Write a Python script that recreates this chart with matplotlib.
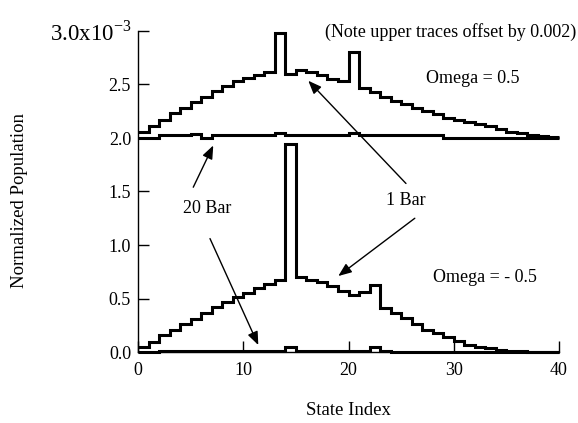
import matplotlib
matplotlib.use("Agg")
import matplotlib.pyplot as plt
import numpy as np

plt.rcParams["font.family"] = ["Liberation Serif", "DejaVu Serif"]
plt.rcParams["mathtext.fontset"] = "custom"
plt.rcParams["mathtext.rm"] = "Liberation Serif"

# populations in units of 1e-3, one value per state (0..39)
states = np.arange(41)
OFFSET = 2.0  # upper traces are shifted up by 0.002

omega_pos_1bar = [0.06, 0.115, 0.17, 0.23, 0.28, 0.34, 0.385, 0.44, 0.49, 0.53,
                  0.56, 0.59, 0.62, 0.98, 0.60, 0.635, 0.62, 0.59, 0.55, 0.53,
                  0.80, 0.47, 0.43, 0.385, 0.35, 0.32, 0.28, 0.25, 0.225, 0.19,
                  0.17, 0.15, 0.13, 0.11, 0.08, 0.06, 0.045, 0.03, 0.02, 0.01]
omega_pos_20bar = [0.0, 0.0, 0.025, 0.025, 0.025, 0.04, 0.0, 0.025, 0.025, 0.025,
                   0.025, 0.025, 0.025, 0.045, 0.025, 0.025, 0.025, 0.025, 0.025, 0.025,
                   0.05, 0.025, 0.025, 0.025, 0.025, 0.025, 0.025, 0.025, 0.025, 0.0,
                   0.0, 0.0, 0.0, 0.0, 0.0, 0.0, 0.0, 0.0, 0.0, 0.0]
omega_neg_1bar = [0.044, 0.096, 0.158, 0.21, 0.26, 0.31, 0.366, 0.417, 0.47, 0.51,
                  0.555, 0.594, 0.634, 0.675, 1.94, 0.70, 0.67, 0.65, 0.615, 0.57,
                  0.53, 0.56, 0.63, 0.41, 0.36, 0.314, 0.26, 0.21, 0.175, 0.14,
                  0.10, 0.07, 0.05, 0.035, 0.02, 0.01, 0.005, 0.003, 0.002, 0.001]
omega_neg_20bar = [0.0, 0.0, 0.005, 0.005, 0.005, 0.005, 0.005, 0.012, 0.012, 0.012,
                   0.012, 0.012, 0.012, 0.012, 0.05, 0.012, 0.012, 0.012, 0.012, 0.012,
                   0.012, 0.012, 0.045, 0.012, 0.0, 0.0, 0.0, 0.0, 0.0, 0.0,
                   0.0, 0.0, 0.0, 0.0, 0.0, 0.0, 0.0, 0.0, 0.0, 0.0]

yticks = [0.0, 0.5, 1.0, 1.5, 2.0, 2.5, 3.0]
yticklabels = ["0.0", "0.5", "1.0", "1.5", "2.0", "2.5", "3.0x10$^{\\mathregular{-3}}$"]
xticks = [0, 10, 20, 30, 40]

W, H = 578, 423
fig = plt.figure(figsize=(W / 100, H / 100), dpi=100)
ax = fig.add_axes([138 / W, (H - 352) / H, 421 / W, 321 / H])

lw = 2.2
ax.stairs(np.array(omega_pos_1bar) + OFFSET, states, baseline=None,
          color="black", lw=lw, clip_on=False)
ax.stairs(np.array(omega_pos_20bar) + OFFSET, states, baseline=None,
          color="black", lw=lw, clip_on=False)
ax.stairs(omega_neg_1bar, states, baseline=None, color="black", lw=lw, clip_on=False)
ax.stairs(omega_neg_20bar, states, baseline=None, color="black", lw=lw, clip_on=False)

ax.set_xlim(0, 40)
ax.set_ylim(0, 3.0)
for side in ("top", "right"):
    ax.spines[side].set_visible(False)
for side in ("left", "bottom"):
    ax.spines[side].set_linewidth(1.0)

ax.set_xticks(xticks)
ax.set_yticks(yticks)
ax.set_yticklabels(yticklabels)
ax.tick_params(direction="in", length=8, width=1, labelsize=13, pad=5)
ax.tick_params(axis="x", pad=7)
# the top label carries the scale factor and is drawn larger
top_label = ax.get_yticklabels()[-1]
top_label.set_fontsize(16.5)
top_label.set_verticalalignment("center_baseline")

ax.set_xlabel("State Index", fontsize=13.5)
ax.xaxis.set_label_coords(0.5, -0.155)
ax.set_ylabel("Normalized Population", fontsize=13.5)
ax.yaxis.set_label_coords(-0.262, 0.473)

fs = 13
ax.text(41.6, 2.99, "(Note upper traces offset by 0.002)", fontsize=fs,
        ha="right", va="center")
ax.text(31.8, 2.56, "Omega = 0.5", fontsize=fs, ha="center", va="center")
ax.text(33.0, 0.70, "Omega = - 0.5", fontsize=fs, ha="center", va="center")
ax.text(6.6, 1.34, "20 Bar", fontsize=fs, ha="center", va="center")
ax.text(25.4, 1.42, "1 Bar", fontsize=fs, ha="center", va="center")

arrow = dict(arrowstyle="-|>,head_length=0.5,head_width=0.2", color="black",
             lw=1.0, mutation_scale=16, shrinkA=0, shrinkB=0)
ax.annotate("", xy=(7.15, 1.93), xytext=(5.25, 1.54), arrowprops=arrow)
ax.annotate("", xy=(11.43, 0.065), xytext=(6.84, 1.06), arrowprops=arrow)
ax.annotate("", xy=(16.18, 2.535), xytext=(25.46, 1.575), arrowprops=arrow)
ax.annotate("", xy=(19.03, 0.71), xytext=(26.3, 1.25), arrowprops=arrow)

fig.savefig("out.png", dpi=100)
